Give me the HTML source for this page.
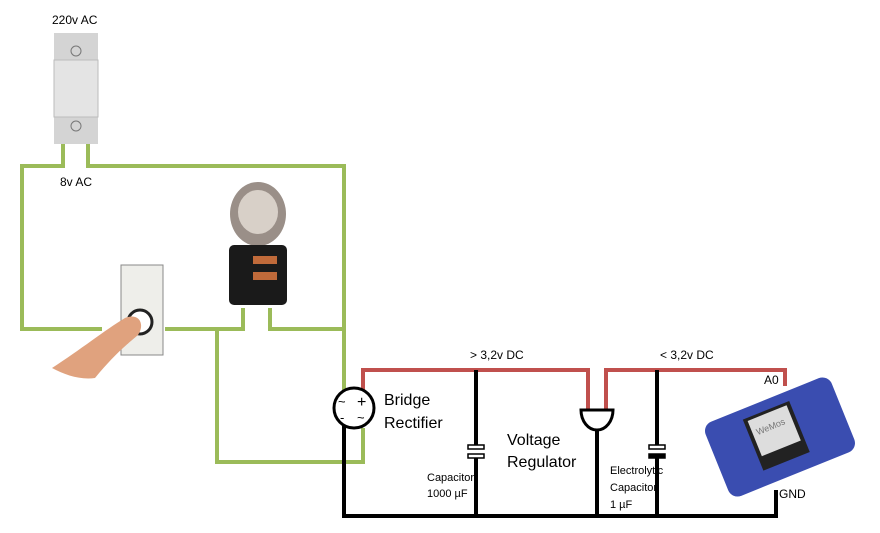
<!DOCTYPE html>
<html><head><meta charset="utf-8"><style>
html,body{margin:0;padding:0;background:#fff;}
svg{display:block;font-family:"Liberation Sans",sans-serif;}
</style></head><body>
<svg width="880" height="533" viewBox="0 0 880 533">
<g fill="none" stroke="#9bbb59" stroke-width="4">
<polyline points="63,144 63,166 22,166 22,329 102,329"/>
<polyline points="88,144 88,166 344,166 344,392"/>
<polyline points="165,329 243,329 243,308"/>
<polyline points="270,308 270,329 344,329"/>
<polyline points="217,329 217,462 363,462 363,428"/>
</g>
<g fill="none" stroke="#c0504d" stroke-width="4">
<polyline points="363,392 363,370 588,370 588,410"/>
<polyline points="606,410 606,370 785,370 785,386"/>
</g>
<g fill="none" stroke="#000" stroke-width="4">
<polyline points="344,426 344,516 776,516 776,490"/>
<line x1="476" y1="370" x2="476" y2="447"/>
<line x1="476" y1="457" x2="476" y2="516"/>
<line x1="597" y1="430" x2="597" y2="516"/>
<line x1="657" y1="370" x2="657" y2="447"/>
<line x1="657" y1="457" x2="657" y2="516"/>
</g>
<rect x="468" y="445" width="16" height="4" fill="#fff" stroke="#000" stroke-width="1.5"/>
<rect x="468" y="454" width="16" height="4" fill="#fff" stroke="#000" stroke-width="1.5"/>
<rect x="649" y="445" width="16" height="4" fill="#fff" stroke="#000" stroke-width="1.5"/>
<rect x="649" y="454" width="16" height="4" fill="#000" stroke="#000" stroke-width="1.5"/>
<path d="M581,410 H613 A16,20 0 0 1 581,410 Z" fill="#fff" stroke="#000" stroke-width="3"/>
<circle cx="354" cy="408" r="20" fill="#fff" stroke="#000" stroke-width="3"/>
<text x="338" y="406" font-size="13">~</text><text x="357" y="407" font-size="16">+</text>
<text x="340" y="422" font-size="13">-</text><text x="357" y="422" font-size="13">~</text>
<rect x="54" y="33" width="44" height="111" fill="#d4d4d4"/>
<rect x="54" y="60" width="44" height="57" fill="#e4e4e4" stroke="#bbb"/>
<circle cx="76" cy="51" r="5" fill="none" stroke="#777"/>
<circle cx="76" cy="126" r="5" fill="none" stroke="#777"/>
<ellipse cx="258" cy="214" rx="28" ry="32" fill="#9a8f88"/>
<ellipse cx="258" cy="212" rx="20" ry="22" fill="#d8d0c8"/>
<rect x="229" y="245" width="58" height="60" rx="5" fill="#1a1a1a"/>
<rect x="253" y="256" width="24" height="8" fill="#c06a3a"/>
<rect x="253" y="272" width="24" height="8" fill="#c06a3a"/>
<rect x="121" y="265" width="42" height="90" fill="#eeeeea" stroke="#888"/>
<circle cx="140" cy="322" r="12" fill="#fff" stroke="#222" stroke-width="3"/>
<path d="M52,368 C80,350 105,330 125,318 C140,312 145,325 138,335 C120,350 110,360 95,378 C80,380 65,375 52,368Z" fill="#e0a27e"/>
<g transform="translate(780,437) rotate(-22)">
<rect x="-68" y="-40" width="136" height="80" rx="10" fill="#3a4db0"/>
<rect x="-28" y="-30" width="50" height="55" fill="#222"/>
<rect x="-24" y="-27" width="42" height="38" fill="#ddd"/>
<text x="-20" y="-10" font-size="9" fill="#777">WeMos</text>
</g>
<g font-size="12" fill="#000">
<text x="52" y="24">220v AC</text>
<text x="60" y="186">8v AC</text>
<text x="470" y="359">&gt; 3,2v DC</text>
<text x="660" y="359">&lt; 3,2v DC</text>
<text x="764" y="384">A0</text>
<text x="779" y="498">GND</text>
</g>
<g font-size="11" fill="#000">
<text x="427" y="481">Capacitor</text>
<text x="427" y="497">1000 µF</text>
<text x="610" y="474">Electrolytic</text>
<text x="610" y="491">Capacitor</text>
<text x="610" y="508">1 µF</text>
</g>
<g font-size="16" fill="#000">
<text x="384" y="405">Bridge</text>
<text x="384" y="428">Rectifier</text>
<text x="507" y="445">Voltage</text>
<text x="507" y="467">Regulator</text>
</g>
</svg>
</body></html>
